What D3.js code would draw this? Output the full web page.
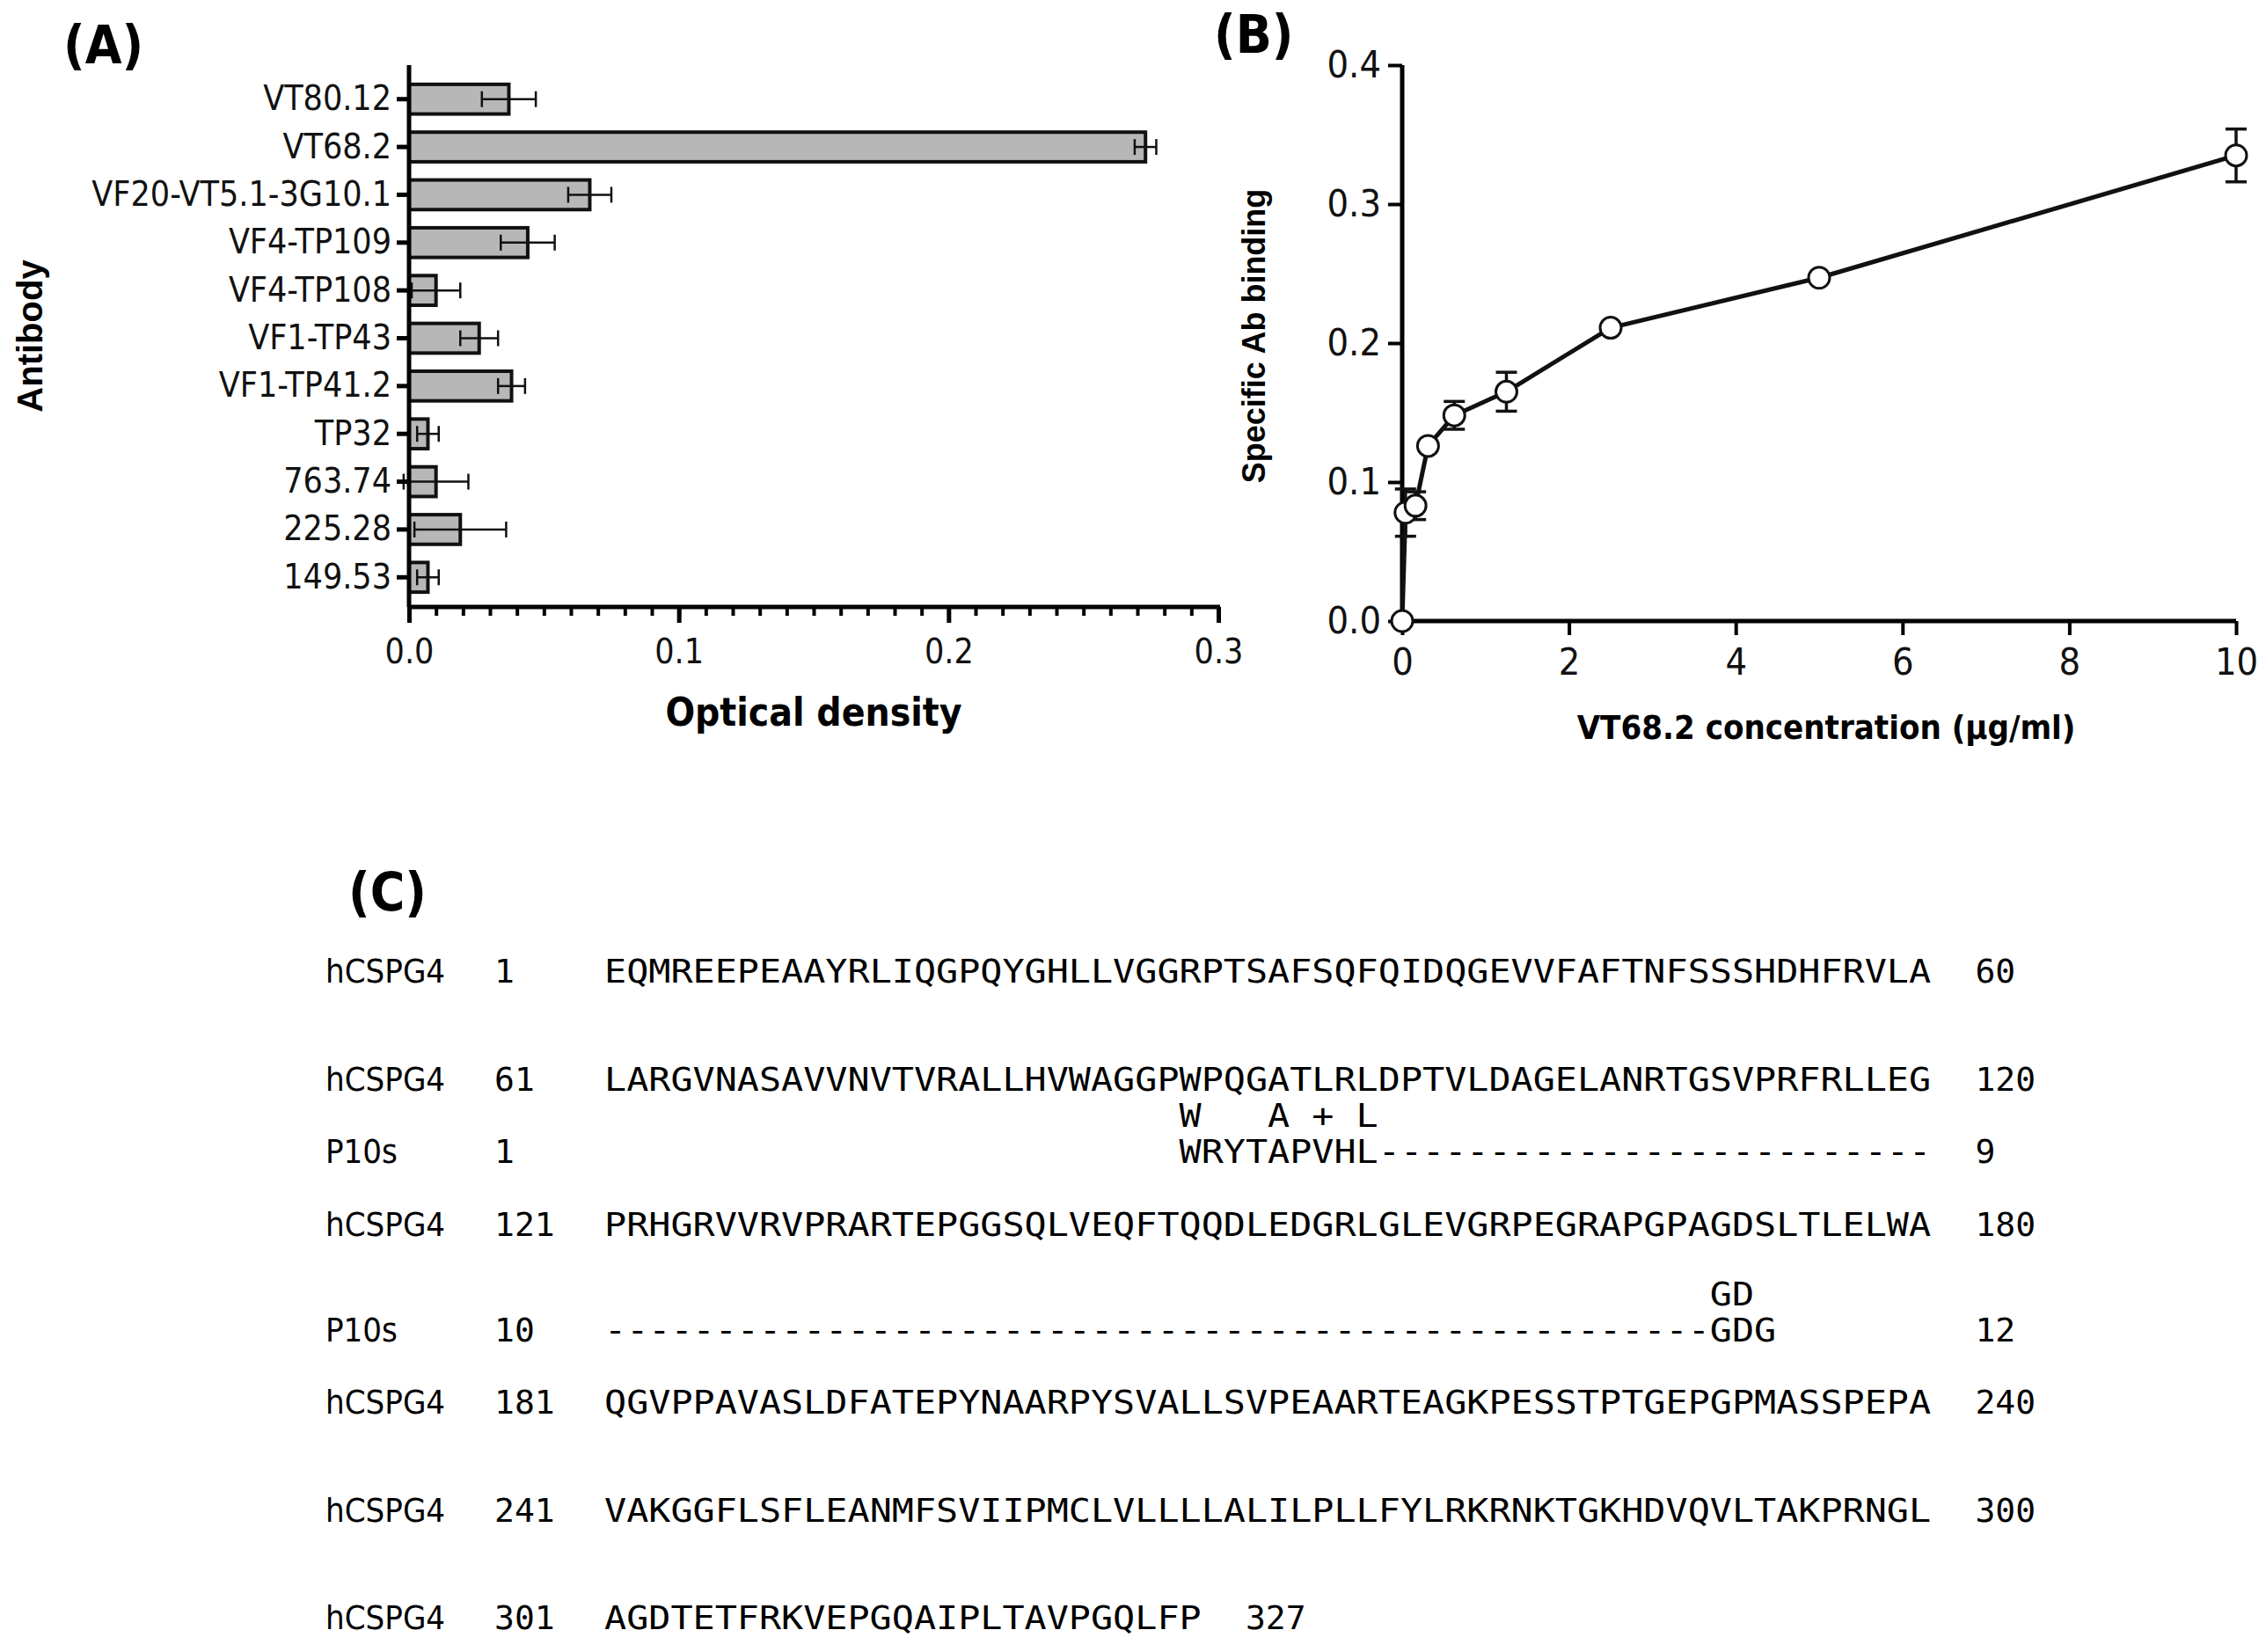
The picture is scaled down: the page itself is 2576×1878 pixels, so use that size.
<!DOCTYPE html>
<html lang="en">
<head>
<meta charset="UTF-8">
<title>Antibody binding and alignment</title>
<script src="https://d3js.org/d3.v7.min.js"></script>
<style>
  body { margin: 0; background: #fff; }
  .narrow { font-family: "Liberation Sans Narrow", "DejaVu Sans Condensed", "Liberation Sans", sans-serif; }
  .bold { font-family: "Liberation Sans", Arial, sans-serif; font-weight: bold; }
  .mono { font-family: "DejaVu Sans Mono", "Liberation Mono", monospace; white-space: pre; }
</style>
</head>
<body>
<svg width="2576" height="1878"></svg>
<script>
// panel A data
const antibodies = ["VT80.12", "VT68.2", "VF20-VT5.1-3G10.1", "VF4-TP109", "VF4-TP108",
    "VF1-TP43", "VF1-TP41.2", "TP32", "763.74", "225.28", "149.53"];
const odMeans = [0.037, 0.273, 0.067, 0.044, 0.010, 0.026, 0.038, 0.007, 0.010, 0.019, 0.007];
const odErrors = [0.010, 0.004, 0.008, 0.010, 0.009, 0.007, 0.005, 0.004, 0.012, 0.017, 0.004];
const odTicks = [0, 0.1, 0.2, 0.3];

// panel B data
const concentrations = [0, 0.04, 0.16, 0.31, 0.625, 1.25, 2.5, 5, 10];
const binding = [0, 0.078, 0.083, 0.126, 0.148, 0.165, 0.211, 0.247, 0.335];
const bindingErr = [0, 0.017, 0.010, 0.004, 0.010, 0.014, 0.004, 0.004, 0.019];
const concTicks = [0, 2, 4, 6, 8, 10];
const bindTicks = [0, 0.1, 0.2, 0.3, 0.4];

// panel C data
const seqNames = ["hCSPG4", "hCSPG4", "", "P10s", "hCSPG4", "", "P10s", "hCSPG4", "hCSPG4", "hCSPG4"];
const seqStarts = ["1", "61", "", "1", "121", "", "10", "181", "241", "301"];
const seqTexts = [
  "EQMREEPEAAYRLIQGPQYGHLLVGGRPTSAFSQFQIDQGEVVFAFTNFSSSHDHFRVLA",
  "LARGVNASAVVNVTVRALLHVWAGGPWPQGATLRLDPTVLDAGELANRTGSVPRFRLLEG",
  "                          W   A + L",
  "                          WRYTAPVHL-------------------------",
  "PRHGRVVRVPRARTEPGGSQLVEQFTQQDLEDGRLGLEVGRPEGRAPGPAGDSLTLELWA",
  "                                                  GD",
  "--------------------------------------------------GDG",
  "QGVPPAVASLDFATEPYNAARPYSVALLSVPEAARTEAGKPESSTPTGEPGPMASSPEPA",
  "VAKGGFLSFLEANMFSVIIPMCLVLLLLALILPLLFYLRKRNKTGKHDVQVLTAKPRNGL",
  "AGDTETFRKVEPGQAIPLTAVPGQLFP"
];
const seqEnds = ["60", "120", "", "9", "180", "", "12", "240", "300", "327"];
const seqBaselines = [1117, 1240, 1281, 1322, 1405, 1484, 1525, 1607, 1730, 1852];

const svg = d3.select("svg");

// ---------- panel A ----------
const xA = d3.scaleLinear().domain([0, 0.3]).range([465, 1385]);
const yA = d3.scaleBand().domain(antibodies).range([85, 684]).paddingInner(0.38).paddingOuter(0.2);
const gA = svg.append("g");

gA.selectAll("rect.bar").data(antibodies).enter().append("rect")
    .attr("x", xA(0))
    .attr("y", d => yA(d))
    .attr("width", (d, i) => xA(odMeans[i]) - xA(0))
    .attr("height", yA.bandwidth())
    .attr("fill", "#b7b7b7").attr("stroke", "#111").attr("stroke-width", 4);

const errA = gA.selectAll("g.err").data(antibodies).enter().append("g")
    .attr("stroke", "#111").attr("stroke-width", 2.5);
errA.append("line")
    .attr("x1", (d, i) => xA(odMeans[i] - odErrors[i])).attr("x2", (d, i) => xA(odMeans[i] + odErrors[i]))
    .attr("y1", d => yA(d) + yA.bandwidth() / 2).attr("y2", d => yA(d) + yA.bandwidth() / 2);
[1, -1].forEach(s => {
  errA.append("line")
      .attr("x1", (d, i) => xA(odMeans[i] + s * odErrors[i])).attr("x2", (d, i) => xA(odMeans[i] + s * odErrors[i]))
      .attr("y1", d => yA(d) + yA.bandwidth() / 2 - 9).attr("y2", d => yA(d) + yA.bandwidth() / 2 + 9);
});

// y axis A
const yAxisA = gA.append("g").attr("transform", `translate(${xA(0)},0)`)
    .call(d3.axisLeft(yA).tickSize(14).tickPadding(6));
yAxisA.select(".domain").attr("d", "M0,74V690").attr("stroke-width", 5);
yAxisA.selectAll(".tick line").attr("stroke-width", 5);
yAxisA.selectAll("text").attr("class", "narrow").attr("font-size", 39).attr("fill", "#111");

// x axis A with minor ticks
gA.append("g").attr("transform", "translate(0,690)")
    .call(d3.axisBottom(xA).tickValues(d3.range(0, 0.3001, 0.01)).tickSize(10).tickFormat(""))
    .call(g => g.select(".domain").remove())
    .selectAll(".tick line").attr("stroke-width", 4);
const xAxisA = gA.append("g").attr("transform", "translate(0,690)")
    .call(d3.axisBottom(xA).tickValues(odTicks).tickSize(18).tickPadding(18).tickFormat(d3.format(".1f")));
xAxisA.select(".domain").attr("d", `M${xA(0) - 2},0H${xA(0.3) + 2}`).attr("stroke-width", 5);
xAxisA.selectAll(".tick line").attr("stroke-width", 5);
xAxisA.selectAll("text").attr("class", "narrow").attr("font-size", 39).attr("fill", "#111");

svg.append("text").attr("class", "narrow").attr("font-weight", "bold").attr("font-size", 44)
    .attr("x", 925).attr("y", 825).attr("text-anchor", "middle").text("Optical density");
svg.append("text").attr("class", "bold").attr("font-size", 40)
    .attr("transform", "translate(48,382) rotate(-90)").attr("text-anchor", "middle").text("Antibody");
svg.append("text").attr("class", "narrow").attr("font-weight", "bold").attr("font-size", 60)
    .attr("x", 72).attr("y", 72).text("(A)");

// ---------- panel B ----------
const xB = d3.scaleLinear().domain([0, 10]).range([1594, 2542]);
const yB = d3.scaleLinear().domain([0, 0.4]).range([706, 74]);
const gB = svg.append("g");

const xAxisB = gB.append("g").attr("transform", "translate(0,706)")
    .call(d3.axisBottom(xB).tickValues(concTicks).tickSize(16).tickPadding(14));
const yAxisB = gB.append("g").attr("transform", `translate(${xB(0)},0)`)
    .call(d3.axisLeft(yB).tickValues(bindTicks).tickSize(16).tickPadding(8).tickFormat(d3.format(".1f")));
[xAxisB, yAxisB].forEach(ax => {
  ax.select(".domain").attr("stroke-width", 5);
  ax.selectAll(".tick line").attr("stroke-width", 4);
  ax.selectAll("text").attr("class", "narrow").attr("font-size", 43).attr("fill", "#111");
});
xAxisB.select(".domain").attr("d", `M${xB(0)},0H${xB(10)}`);
yAxisB.select(".domain").attr("d", `M0,${yB(0)}V${yB(0.4)}`);

const pts = concentrations.map((c, i) => ({ c: c, v: binding[i], e: bindingErr[i] }));
gB.append("path").datum(pts)
    .attr("d", d3.line().x(d => xB(d.c)).y(d => yB(d.v)))
    .attr("fill", "none").attr("stroke", "#111").attr("stroke-width", 5).attr("stroke-linejoin", "round");

const errB = gB.selectAll("g.err").data(pts.filter(d => d.e > 0.006)).enter().append("g")
    .attr("stroke", "#111").attr("stroke-width", 3.5);
errB.append("line").attr("x1", d => xB(d.c)).attr("x2", d => xB(d.c))
    .attr("y1", d => yB(d.v - d.e)).attr("y2", d => yB(d.v + d.e));
[1, -1].forEach(s => {
  errB.append("line").attr("x1", d => xB(d.c) - 12).attr("x2", d => xB(d.c) + 12)
      .attr("y1", d => yB(d.v + s * d.e)).attr("y2", d => yB(d.v + s * d.e));
});

gB.selectAll("circle").data(pts).enter().append("circle")
    .attr("cx", d => xB(d.c)).attr("cy", d => yB(d.v)).attr("r", 12)
    .attr("fill", "#fff").attr("stroke", "#111").attr("stroke-width", 3);

svg.append("text").attr("class", "narrow").attr("font-weight", "bold").attr("font-size", 38)
    .attr("x", 2076).attr("y", 840).attr("text-anchor", "middle").text("VT68.2 concentration (µg/ml)");
svg.append("text").attr("class", "bold").attr("font-size", 36)
    .attr("transform", "translate(1438,382) rotate(-90)").attr("text-anchor", "middle").text("Specific Ab binding");
svg.append("text").attr("class", "narrow").attr("font-weight", "bold").attr("font-size", 60)
    .attr("x", 1380).attr("y", 60).text("(B)");

// ---------- panel C ----------
const charW = 15.3 * 2576 / 1568;
const seqX = 687;
svg.append("text").attr("class", "narrow").attr("font-weight", "bold").attr("font-size", 60)
    .attr("x", 396).attr("y", 1035).text("(C)");
const gC = svg.append("g");
seqTexts.forEach((s, i) => {
  const y = seqBaselines[i];
  gC.append("text").attr("class", "narrow").attr("font-size", 38).attr("x", 370).attr("y", y)
      .text(seqNames[i]);
  gC.append("text").attr("class", "mono").attr("font-size", 38).attr("x", 562).attr("y", y)
      .text(seqStarts[i]);
  gC.append("text").attr("class", "mono").attr("font-size", 38).attr("x", seqX).attr("y", y)
      .attr("textLength", s.length * charW).attr("lengthAdjust", "spacingAndGlyphs")
      .attr("xml:space", "preserve").text(s);
  const endCol = s.length >= 50 ? 62 : s.length + 2;
  gC.append("text").attr("class", "mono").attr("font-size", 38).attr("x", seqX + endCol * charW).attr("y", y)
      .text(seqEnds[i]);
});
</script>
</body>
</html>
